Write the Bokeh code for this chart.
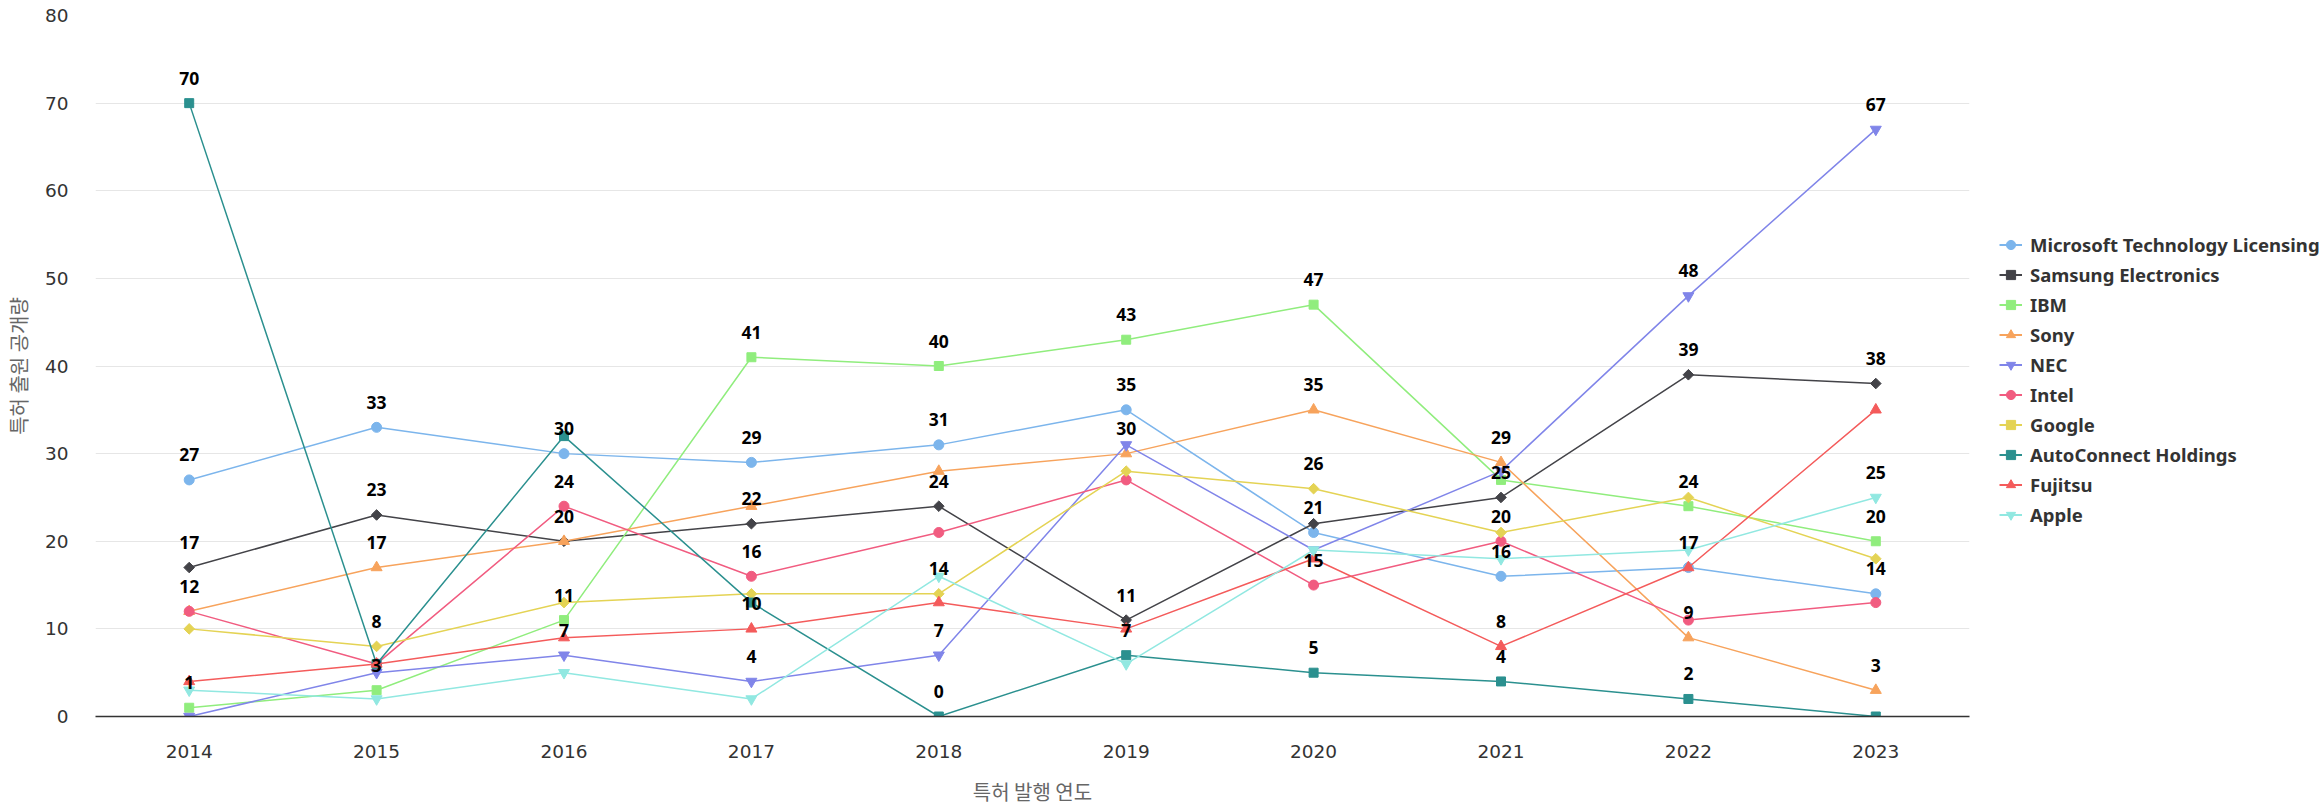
from bokeh.plotting import figure
from bokeh.layouts import row
from bokeh.models import (ColumnDataSource, LabelSet, Legend, LegendItem,
                          FixedTicker, Range1d)
from bokeh.embed import file_html
from bokeh.resources import INLINE
from bokeh.core.properties import value
import math

# ---------------- data ----------------
years = [2014, 2015, 2016, 2017, 2018, 2019, 2020, 2021, 2022, 2023]
series_names = ["Microsoft Technology Licensing", "Samsung Electronics", "IBM",
                "Sony", "NEC", "Intel", "Google", "AutoConnect Holdings",
                "Fujitsu", "Apple"]
microsoft = [27, 33, 30, 29, 31, 35, 21, 16, 17, 14]
samsung = [17, 23, 20, 22, 24, 11, 22, 25, 39, 38]
ibm = [1, 3, 11, 41, 40, 43, 47, 27, 24, 20]
sony = [12, 17, 20, 24, 28, 30, 35, 29, 9, 3]
nec = [0, 5, 7, 4, 7, 31, 19, 28, 48, 67]
intel = [12, 6, 24, 16, 21, 27, 15, 20, 11, 13]
google = [10, 8, 13, 14, 14, 28, 26, 21, 25, 18]
autoconnect = [70, 6, 32, 13, 0, 7, 5, 4, 2, 0]
fujitsu = [4, 6, 9, 10, 13, 10, 18, 8, 17, 35]
apple = [3, 2, 5, 2, 16, 6, 19, 18, 19, 25]
y_ticks = [0, 10, 20, 30, 40, 50, 60, 70, 80]
x_title = "특허 발행 연도"
y_title = "특허 출원 공개량"

all_values = [microsoft, samsung, ibm, sony, nec, intel, google,
              autoconnect, fujitsu, apple]

# ---------------- style ----------------
colors = ["#7cb5ec", "#434348", "#90ed7d", "#f7a35c", "#8085e9",
          "#f15c80", "#e4d354", "#2b908f", "#f45b5b", "#91e8e1"]
markers = ["circle", "diamond", "square", "triangle", "inverted_triangle"]
marker_sizes = {"circle": 10, "diamond": 7.5, "square": 9,
                "triangle": 11, "inverted_triangle": 11}

W, H = 2324, 808
MAIN_W = 1979
LEG_W = W - MAIN_W
BORDER_L, BORDER_R, BORDER_T, BORDER_B = 91, MAIN_W - 1969, 15, 90
FRAME_H = H - BORDER_T - BORDER_B
Y_MAX = 80

p = figure(width=MAIN_W, height=H, output_backend="svg", toolbar_location=None,
           x_range=Range1d(2013.5, 2023.5), y_range=Range1d(0, Y_MAX),
           min_border_left=BORDER_L, min_border_right=BORDER_R,
           min_border_top=BORDER_T, min_border_bottom=BORDER_B)
p.outline_line_color = None
p.background_fill_color = "white"

# axes
p.xaxis.ticker = FixedTicker(ticks=years)
p.yaxis.ticker = FixedTicker(ticks=y_ticks)
p.xaxis.axis_line_color = "#333333"
p.xaxis.axis_line_width = 1.5
p.xaxis.major_tick_line_color = None
p.xaxis.minor_tick_line_color = None
p.yaxis.axis_line_color = None
p.yaxis.major_tick_line_color = None
p.yaxis.minor_tick_line_color = None
for ax in (p.xaxis[0], p.yaxis[0]):
    ax.major_label_text_font = "DejaVu Sans"
    ax.major_label_text_font_size = "18.5px"
    ax.major_label_text_color = "#333333"
    ax.axis_label_text_font = "Noto Sans CJK KR"
    ax.axis_label_text_font_size = "20px"
    ax.axis_label_text_font_style = "normal"
    ax.axis_label_text_color = "#666666"
p.xaxis.major_label_standoff = 22
p.xaxis.axis_label = x_title
p.xaxis.axis_label_standoff = 16
p.yaxis.major_label_standoff = 21
p.yaxis.axis_label = y_title
p.yaxis.axis_label_standoff = 9

p.xgrid.grid_line_color = None
p.ygrid.grid_line_color = "#e6e6e6"
p.ygrid.grid_line_width = 1

# legend figure (separate canvas on the right)
lf = figure(width=LEG_W, height=H, output_backend="svg", toolbar_location=None,
            x_range=Range1d(0, 1), y_range=Range1d(0, 1),
            x_axis_type=None, y_axis_type=None,
            min_border_left=0, min_border_right=0,
            min_border_top=0, min_border_bottom=0)
lf.outline_line_color = None
lf.xgrid.grid_line_color = None
lf.ygrid.grid_line_color = None

# series
legend_items = []
for i, (name, vals) in enumerate(zip(series_names, all_values)):
    src = ColumnDataSource(dict(x=years, y=vals))
    col = colors[i]
    mk = markers[i % len(markers)]
    angle = math.pi / 4 if mk == "diamond" else 0
    mkr = "square" if mk == "diamond" else mk
    p.line("x", "y", source=src, line_color=col, line_width=1.5)
    p.scatter("x", "y", source=src, marker=mkr, size=marker_sizes[mk],
              angle=angle, fill_color=col, line_color=col)
    # legend proxies (drawn off-range in the legend canvas)
    off = ColumnDataSource(dict(x=[-5, -4], y=[-5, -5]))
    ln = lf.line("x", "y", source=off, line_color=col, line_width=2)
    sc = lf.scatter("x", "y", source=off, marker=mkr, size=marker_sizes[mk],
                    angle=angle, fill_color=col, line_color=col)
    legend_items.append(LegendItem(label=name, renderers=[ln, sc]))

# data labels with overlap hiding (greedy, series order)
px_per_unit = FRAME_H / Y_MAX
threshold = 30 / px_per_unit
kept = [[] for _ in years]
for i, vals in enumerate(all_values):
    lx, ly, lt = [], [], []
    for j, v in enumerate(vals):
        if all(abs(v - k) >= threshold for k in kept[j]):
            kept[j].append(v)
            lx.append(years[j]); ly.append(v); lt.append(str(v))
    lsrc = ColumnDataSource(dict(x=lx, y=ly, t=lt))
    labels = LabelSet(x="x", y="y", text="t", source=lsrc, y_offset=25,
                      text_align="center", text_baseline="middle",
                      text_font=value("Noto Sans"), text_font_size="17.5px",
                      text_font_style="bold", text_color="#000000")
    p.add_layout(labels)

ITEM_H, SPACING = 25, 5
legend = Legend(items=legend_items, location=(1999 - MAIN_W, 189))
legend.label_text_font = "Noto Sans"
legend.label_text_font_size = "18.5px"
legend.label_text_font_style = "bold"
legend.label_text_color = "#333333"
legend.glyph_width = 23
legend.glyph_height = ITEM_H
legend.label_height = ITEM_H
legend.spacing = SPACING
legend.padding = 0
legend.margin = 0
legend.label_standoff = 8
legend.border_line_alpha = 0
legend.background_fill_alpha = 0
lf.add_layout(legend, "center")

layout = row(p, lf, spacing=0)
open("out.html", "w").write(file_html(layout, INLINE))
